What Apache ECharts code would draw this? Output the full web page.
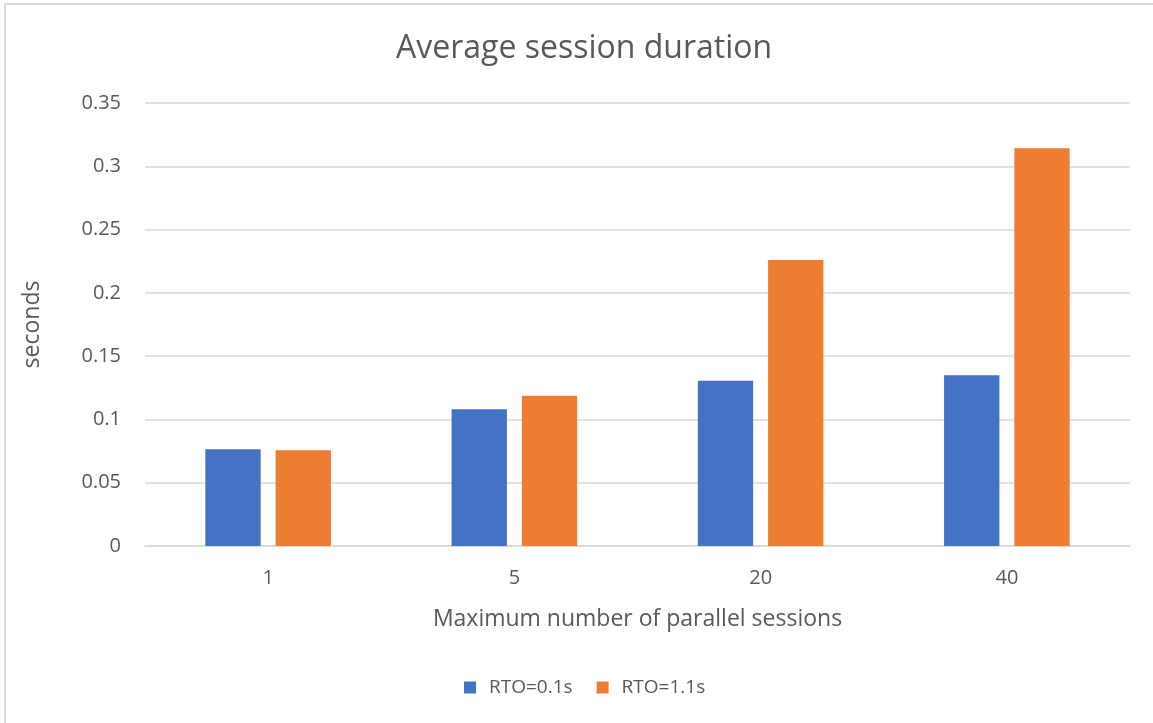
<!DOCTYPE html>
<html>
<head>
<meta charset="utf-8">
<script src="https://cdn.jsdelivr.net/npm/echarts@6/dist/echarts.min.js"></script>
<style>
  html, body { margin: 0; padding: 0; background: #fff; }
  #chart { width: 1153px; height: 723px; }
</style>
</head>
<body>
<div id="chart"></div>
<script>
// Maximum number of parallel sessions
const categories = ['1', '5', '20', '40'];
// Average session duration (seconds) per retransmission timeout
const rto01 = [0.0764, 0.108, 0.1306, 0.1349];
const rto11 = [0.0756, 0.1188, 0.226, 0.3142];
const yTicks = [0, 0.05, 0.1, 0.15, 0.2, 0.25, 0.3, 0.35];

const FONT = '"Open Sans", sans-serif';
const TEXT = '#595959';
const GRID = '#d9d9d9';

const chart = echarts.init(document.getElementById('chart'), null, { renderer: 'canvas' });

chart.setOption({
  backgroundColor: '#ffffff',
  animation: false,
  textStyle: { fontFamily: FONT },
  graphic: [{
    type: 'rect',
    shape: { x: 5, y: 4, width: 1200, height: 800 },
    style: { fill: 'none', stroke: GRID, lineWidth: 2 },
    silent: true
  }],
  title: {
    text: 'Average session duration',
    left: 391,
    top: 28,
    textStyle: { fontFamily: FONT, fontSize: 32, fontWeight: 'normal', color: TEXT }
  },
  legend: {
    bottom: 21,
    left: 459,
    itemWidth: 12,
    itemHeight: 12,
    itemGap: 24,
    icon: 'rect',
    textStyle: { fontFamily: FONT, fontSize: 19, color: TEXT, padding: [0, 0, 0, 8] },
    data: ['RTO=0.1s', 'RTO=1.1s']
  },
  grid: { left: 145, right: 23, top: 103, bottom: 177, containLabel: false },
  xAxis: {
    type: 'category',
    data: categories,
    name: 'Maximum number of parallel sessions',
    nameLocation: 'middle',
    nameGap: 62,
    nameTextStyle: { fontFamily: FONT, fontSize: 23, color: TEXT },
    axisLine: { show: true, lineStyle: { color: GRID, width: 1.5 } },
    axisTick: { show: false },
    axisLabel: { fontFamily: FONT, fontSize: 20, color: TEXT, margin: 22 }
  },
  yAxis: {
    type: 'value',
    min: yTicks[0],
    max: yTicks[yTicks.length - 1],
    interval: 0.05,
    name: 'seconds',
    nameLocation: 'middle',
    nameGap: 101,
    nameRotate: 90,
    nameTextStyle: { fontFamily: FONT, fontSize: 23, color: TEXT },
    axisLine: { show: false },
    axisTick: { show: false },
    axisLabel: {
      fontFamily: FONT, fontSize: 20, color: TEXT, margin: 24,
      formatter: v => String(parseFloat(v.toFixed(2)))
    },
    splitLine: { lineStyle: { color: GRID, width: 1.5 } }
  },
  series: [
    {
      name: 'RTO=0.1s',
      type: 'bar',
      data: rto01,
      itemStyle: { color: '#4472c4' },
      barGap: '27%',
      barCategoryGap: '49%'
    },
    {
      name: 'RTO=1.1s',
      type: 'bar',
      data: rto11,
      itemStyle: { color: '#ed7d31' }
    }
  ]
});
</script>
</body>
</html>
